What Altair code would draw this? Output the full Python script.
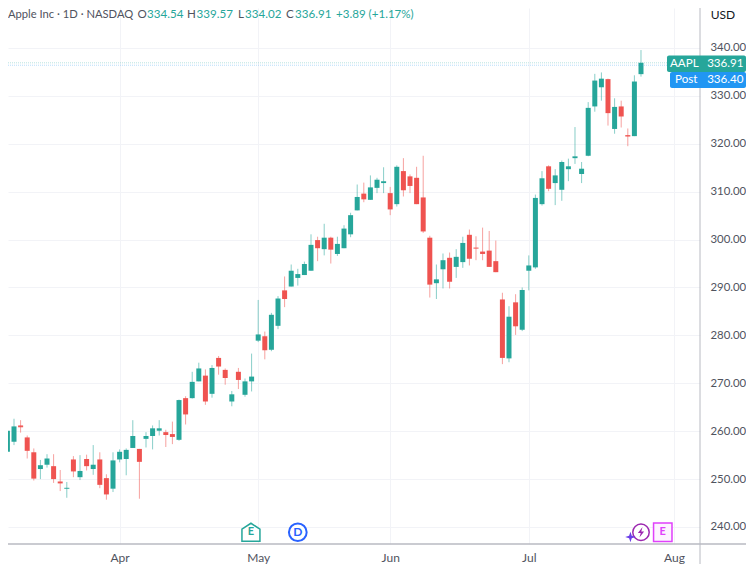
import altair as alt
import pandas as pd

# Candle positions count trading sessions from 1 April (session 0).
first_session = -18
opens = [
    258.7, 255.7, 257.8, 261.2, 258.7, 255.6, 252.1, 253.0, 252.7, 249.5,
    248.0, 254.1, 250.4, 254.2, 252.1, 254.1, 250.2, 248.0,
    254.1, 254.2, 256.5, 256.3, 258.4, 259.0, 260.1, 259.8, 259.4, 258.2,
    266.9, 266.9, 270.4, 271.6, 267.8, 275.3, 272.8, 266.2, 272.4, 267.6, 270.4,
    278.9, 279.8, 277.0, 282.0, 289.4, 290.2, 292.0, 292.6, 293.5, 299.9,
    298.0, 300.4, 297.0, 298.2, 301.1, 306.1, 309.6, 308.3, 310.8, 311.8,
    309.7, 307.4, 314.3, 313.2, 312.9, 308.8, 300.4, 290.9, 293.8, 296.2,
    294.3, 295.3, 301.0, 298.3, 297.5, 297.7, 295.5, 287.5, 275.2, 286.9,
    281.2, 293.5, 294.2, 307.4, 315.3, 311.8, 310.4, 314.7, 317.0, 313.7,
    317.5, 327.8, 331.8, 333.5, 323.1, 327.8, 321.8, 321.6, 334.54,
]
closes = [
    257.5, 260.1, 261.0, 260.9, 255.9, 250.1, 252.9, 254.3, 250.0, 249.1,
    248.1, 251.6, 251.7, 252.7, 253.0, 248.8, 246.8, 253.9,
    255.7, 256.1, 259.0, 253.6, 259.0, 260.6, 260.6, 259.2, 258.8, 266.5,
    263.5, 270.3, 273.1, 266.2, 273.2, 273.5, 271.1, 267.7, 270.7, 270.4, 271.4,
    280.2, 276.9, 284.3, 287.7, 287.6, 293.5, 292.8, 294.9, 298.9, 298.2,
    300.4, 297.9, 299.1, 302.3, 305.1, 308.9, 308.4, 310.9, 312.5, 312.1,
    306.3, 315.2, 310.3, 311.2, 307.4, 301.7, 290.6, 291.7, 295.7, 291.2,
    296.4, 299.3, 296.0, 298.2, 297.0, 294.3, 293.2, 275.3, 283.9, 281.9,
    289.5, 294.6, 308.7, 312.8, 310.6, 313.4, 316.2, 315.3, 317.3, 314.8,
    327.5, 333.2, 333.6, 326.4, 327.7, 325.7, 321.6, 333.0, 336.91,
]
highs = [
    258.7, 261.2, 262.6, 262.3, 259.1, 256.4, 254.0, 255.2, 255.2, 251.9,
    249.4, 254.8, 255.0, 255.1, 257.1, 255.6, 251.0, 255.6,
    256.2, 256.4, 262.3, 256.3, 259.8, 261.2, 262.3, 260.3, 262.0, 266.6,
    267.3, 272.4, 274.3, 272.9, 273.8, 275.7, 273.1, 268.4, 273.2, 271.0, 276.2,
    287.4, 280.8, 284.7, 288.2, 292.3, 294.8, 293.9, 295.4, 301.1, 300.6,
    303.3, 300.6, 300.6, 303.0, 305.6, 311.5, 311.9, 313.4, 312.9, 315.1,
    311.0, 315.5, 317.0, 313.6, 315.2, 317.5, 300.8, 294.8, 297.1, 297.3,
    298.0, 300.6, 302.1, 300.7, 302.5, 301.8, 299.8, 288.9, 286.1, 288.6,
    290.0, 296.7, 309.4, 314.3, 315.5, 314.7, 316.5, 316.9, 323.5, 316.2,
    328.7, 334.6, 334.9, 333.6, 329.5, 329.0, 323.2, 334.3, 339.57,
]
lows = [
    254.6, 253.9, 257.1, 259.7, 254.3, 249.7, 250.0, 252.4, 249.2, 247.5,
    246.1, 250.4, 249.8, 251.8, 250.9, 248.1, 245.7, 247.3,
    253.5, 250.8, 256.5, 245.9, 256.6, 256.2, 259.1, 256.7, 257.3, 258.0,
    261.4, 266.8, 270.4, 265.5, 267.0, 271.8, 269.7, 265.2, 268.8, 267.2, 268.3,
    278.6, 275.0, 276.7, 281.3, 285.9, 290.2, 290.4, 292.6, 293.5, 295.5,
    296.7, 295.0, 296.6, 298.2, 300.5, 306.1, 307.8, 308.3, 309.7, 309.7,
    305.1, 306.9, 309.0, 309.7, 307.4, 301.4, 287.9, 287.6, 289.8, 289.8,
    292.0, 294.1, 294.6, 295.7, 295.7, 294.3, 293.2, 274.0, 274.4, 280.1,
    280.9, 289.4, 293.9, 307.1, 310.1, 307.2, 308.1, 312.2, 315.8, 311.8,
    317.4, 326.7, 329.0, 323.8, 322.1, 323.4, 319.5, 321.6, 334.02,
]
price_ticks = [240, 250, 260, 270, 280, 290, 300, 310, 320, 330, 340]
month_names = ["Apr", "May", "Jun", "Jul", "Aug"]
month_sessions = [0, 21, 41, 62, 84]
last_close = 336.91
post_close = 336.40

df = pd.DataFrame({"open": opens, "close": closes, "high": highs, "low": lows})
df["i"] = range(first_session, first_session + len(df))
df["dir"] = ["up" if c >= o else "down" for o, c in zip(opens, closes)]

GREEN = "#26a69a"
RED = "#ef5350"
TEXT = "#50535e"
FONT = "Lato"
GRID = "#f2f3f7"
LINE = "#b8bac2"

x_scale = alt.Scale(domain=[-16.91, 87.94], nice=False, zero=False, padding=0)
y_scale = alt.Scale(domain=[236.45, 348.35], nice=False, zero=False, padding=0)
color = alt.Color("dir:N", legend=None,
                  scale=alt.Scale(domain=["up", "down"], range=[GREEN, RED]))

x_axis = alt.Axis(
    values=month_sessions, grid=True, gridColor=GRID, domain=False, ticks=False,
    title=None,
    labelExpr="[" + ",".join(f"'{m}'" for m in month_names) + "]"
              "[indexof(" + str(month_sessions) + ",datum.value)]",
    labelPadding=8, labelFont=FONT, labelFontSize=12, labelColor=TEXT,
    labelOverlap=False, labelFlush=False)
y_axis = alt.Axis(
    orient="right", values=price_ticks, format=".2f", grid=True, gridColor=GRID,
    title=None, domain=False, ticks=False, labelPadding=10, labelFont=FONT,
    labelFontSize=11.4, labelColor=TEXT)


def X(field="i"):
    return alt.X(f"{field}:Q", scale=x_scale, axis=x_axis)


def Y(field):
    return alt.Y(f"{field}:Q", scale=y_scale, axis=y_axis)


base = alt.Chart(df)
wicks = base.mark_rule(strokeWidth=1, opacity=0.55, clip=True).encode(
    x=X(), y=Y("low"), y2="high:Q", color=color)
bodies = base.mark_bar(size=5, clip=True).encode(
    x=X(), y=Y("open"), y2="close:Q", color=color)
doji = base.mark_tick(orient="horizontal", size=5, thickness=1, clip=True).transform_filter(
    "abs(datum.open-datum.close)<0.4").encode(x=X(), y=Y("close"), color=color)


def text(t, x, y, col=TEXT, align="left", size=11.6, weight=400):
    return alt.Chart(pd.DataFrame({"t": [t]})).mark_text(
        text=t, align=align, baseline="middle", font=FONT, fontSize=size,
        fontWeight=weight, color=col).encode(x=alt.value(x), y=alt.value(y))


def box(x, x2, y, y2, col):
    return alt.Chart(pd.DataFrame({"t": [0]})).mark_rect(
        color=col, cornerRadius=2).encode(
        x=alt.value(x), x2=alt.value(x2), y=alt.value(y), y2=alt.value(y2))


def hline(v, col):
    return alt.Chart(pd.DataFrame({"p": [v]})).mark_rule(
        color=col, strokeDash=[1, 1], strokeWidth=1, opacity=0.32).encode(
        y=Y("p"), x=alt.value(0), x2=alt.value(660))


def event(idx, price, **mark):
    return alt.Chart(pd.DataFrame({"i": [idx], "p": [price]})).mark_point(**mark).encode(
        x=X(), y=Y("p"))


def event_text(idx, price, t, col, size=11):
    return alt.Chart(pd.DataFrame({"i": [idx], "p": [price]})).mark_text(
        text=t, font=FONT, fontSize=size, fontWeight=700, color=col, baseline="middle").encode(
        x=X(), y=Y("p"))


HOUSE = "M-1,-0.35 L0,-1 L1,-0.35 L1,1 L-1,1 Z"
BOLT = "M0.3,-1 L-0.6,0.15 L-0.05,0.15 L-0.3,1 L0.6,-0.15 L0.05,-0.15 Z"
SPARK = "M0,-1 L0.25,-0.25 L1,0 L0.25,0.25 L0,1 L-0.25,0.25 L-1,0 L-0.25,-0.25 Z"
EV_P = 238.9
events = [
    event(19.9, EV_P, shape=HOUSE, size=324, stroke=GREEN, strokeWidth=1.5, fill="white", opacity=1),
    event_text(19.9, EV_P, "E", GREEN),
    event(27, EV_P, shape="circle", size=314, stroke="#2962ff", strokeWidth=2, fill="white", opacity=1),
    event_text(27, EV_P, "D", "#2962ff", 12),
    event(79, EV_P, shape="circle", size=270, stroke="#9c27b0", strokeWidth=1.5, fill="white", opacity=1),
    event(79, EV_P, shape=BOLT, size=110, fill="#9c27b0", stroke=None, filled=True, opacity=1),
    event(77.4, EV_P - 1.0, shape=SPARK, size=110, fill="#6a3de8", stroke=None, filled=True, opacity=1),
    event(82.3, EV_P, shape="square", size=340, stroke="#e040fb", strokeWidth=1.5, fill="#fdf3ff", opacity=1),
    event_text(82.3, EV_P, "E", "#e040fb"),
]

H_Y = 7
header = [
    text("Apple Inc · 1D · NASDAQ", 0, H_Y, size=11.2),
    text("O", 129.5, H_Y), text("334.54", 139, H_Y, GREEN),
    text("H", 179, H_Y), text("339.57", 188.5, H_Y, GREEN),
    text("L", 230, H_Y), text("334.02", 237, H_Y, GREEN),
    text("C", 278, H_Y), text("336.91", 287, H_Y, GREEN),
    text("+3.89 (+1.17%)", 328, H_Y, GREEN),
    text("USD", 715, H_Y, "#131722", "center", 12),
]
badges = [
    box(659, 738, 47.5, 64, GREEN),
    box(662, 738, 64, 80, "#2196f3"),
    text("AAPL", 662, 55.5, "white"),
    text("336.91", 735.5, 55.5, "white", "right"),
    text("Post", 667, 72, "white"),
    text("336.40", 735.5, 72, "white", "right"),
]
frame = [
    alt.Chart(pd.DataFrame({"t": [0]})).mark_rule(color=LINE, strokeWidth=1).encode(
        x=alt.value(692), y=alt.value(0), y2=alt.value(556)),
    alt.Chart(pd.DataFrame({"t": [0]})).mark_rule(color=LINE, strokeWidth=1.5).encode(
        y=alt.value(536), x=alt.value(0), x2=alt.value(738)),
]

chart = alt.layer(
    wicks, bodies, doji, hline(post_close, "#2196f3"), hline(last_close, GREEN),
    *frame, *events, *header, *badges,
).properties(
    width=692, height=536,
    padding={"left": 0, "top": 0, "right": 46, "bottom": 20},
    autosize=alt.AutoSizeParams(type="none"),
    background="white",
).configure_view(stroke=None)

chart.save("out.html", embed_options={"renderer": "svg", "actions": False})
